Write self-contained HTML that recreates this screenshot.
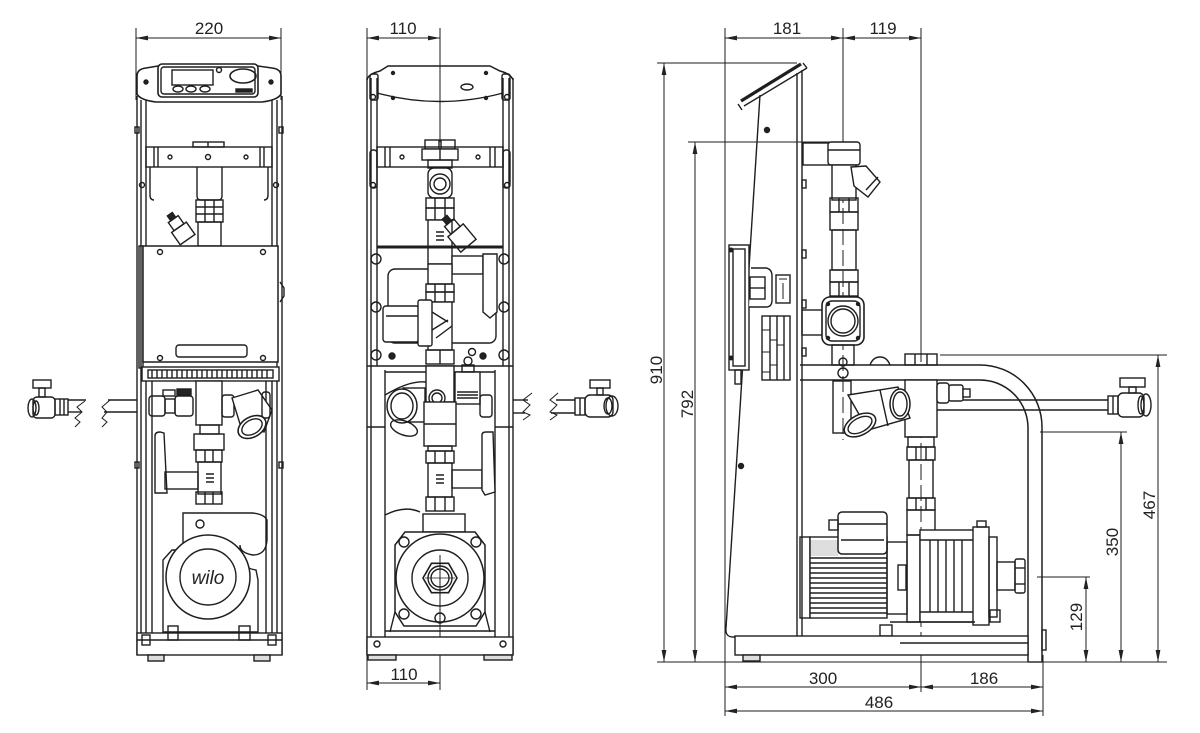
<!DOCTYPE html>
<html><head><meta charset="utf-8">
<style>
html,body{margin:0;padding:0;background:#fff;}
svg{display:block;}
text{font-family:"Liberation Sans",sans-serif;font-size:17px;fill:#222;stroke:none;}
</style></head><body>
<svg width="1200" height="733" viewBox="0 0 1200 733" xmlns="http://www.w3.org/2000/svg">
<defs>
<marker id="a" viewBox="0 0 12 6" refX="12" refY="3" markerWidth="12" markerHeight="6" markerUnits="userSpaceOnUse" orient="auto-start-reverse"><path d="M0,0.6 L12,3 L0,5.4 z" fill="#222" stroke="none"/></marker>
</defs>

<g fill="none" stroke="#1e1e1e" stroke-width="1.4">

<!-- ================= LEFT VIEW ================= -->
<g stroke-width="1">
<line x1="136" y1="28" x2="136" y2="100"/>
<line x1="281" y1="28" x2="281" y2="100"/>
<line x1="136" y1="38" x2="281" y2="38" marker-start="url(#a)" marker-end="url(#a)"/>
</g>
<text x="209" y="34" text-anchor="middle">220</text>

<line x1="137" y1="96" x2="137" y2="655"/>
<line x1="141" y1="100" x2="141" y2="640"/>
<line x1="146" y1="100" x2="146" y2="246"/>
<line x1="282" y1="96" x2="282" y2="655"/>
<line x1="277" y1="100" x2="277" y2="640"/>
<line x1="272" y1="100" x2="272" y2="246"/>
<line x1="146" y1="381" x2="146" y2="635"/>
<line x1="152" y1="381" x2="152" y2="635"/>
<line x1="266" y1="381" x2="266" y2="635"/>
<line x1="272" y1="381" x2="272" y2="635"/>
<rect x="135" y="127" width="4" height="6"/>
<rect x="279" y="127" width="4" height="6"/>
<rect x="135" y="462" width="4" height="6"/>
<rect x="279" y="462" width="4" height="6"/>

<path d="M137,94 L137,76 Q137,69 146,68 L158,66 L258,66 L272,68 Q281,69 281,76 L281,94 Q278,100 262,102 L156,102 Q140,100 137,94 Z" fill="#fff" stroke-width="1.6"/>
<rect x="158" y="64" width="100" height="33" rx="4" fill="#fff" stroke-width="1.6"/>
<rect x="161" y="67" width="94" height="27" rx="3"/>
<rect x="172" y="70" width="41" height="15"/>
<ellipse cx="178" cy="89" rx="5" ry="3"/>
<ellipse cx="191" cy="89" rx="5" ry="3"/>
<ellipse cx="205" cy="89" rx="5" ry="3"/>
<ellipse cx="243" cy="76" rx="13" ry="7" stroke-width="1.6"/>
<circle cx="219" cy="70" r="2.5"/>
<rect x="236" y="89" width="16" height="3" fill="#222"/>
<circle cx="146" cy="82" r="2" fill="#222"/>
<circle cx="271" cy="82" r="2" fill="#222"/>

<rect x="193" y="142" width="31" height="5"/>
<line x1="208" y1="142" x2="208" y2="147"/>
<rect x="146" y="147" width="126" height="20"/>
<line x1="154" y1="147" x2="154" y2="167"/><line x1="158" y1="147" x2="158" y2="167"/>
<line x1="260" y1="147" x2="260" y2="167"/><line x1="264" y1="147" x2="264" y2="167"/>
<circle cx="170" cy="157" r="2"/><circle cx="208" cy="157" r="2.5"/><circle cx="246" cy="157" r="2"/>
<path d="M150,167 V195 Q150,200 154,200"/>
<path d="M268,167 V195 Q268,200 264,200"/>
<circle cx="142" cy="185" r="2.5"/><circle cx="276" cy="185" r="2.5"/>

<path d="M197,167 V196 Q197,200 201,200 H218 Q222,200 222,196 V167"/>
<rect x="196" y="200" width="27" height="22"/>
<line x1="196" y1="207" x2="223" y2="207"/><line x1="196" y1="214" x2="223" y2="214"/>
<line x1="205" y1="200" x2="205" y2="222"/><line x1="214" y1="200" x2="214" y2="222"/>
<rect x="198" y="222" width="23" height="24"/>
<g transform="rotate(-35 183 233)">
<rect x="174" y="226" width="18" height="15"/>
<rect x="177" y="216" width="12" height="10"/>
<rect x="180" y="210" width="6" height="6" fill="#222"/>
</g>

<rect x="139" y="246" width="4" height="122"/>
<rect x="143" y="246" width="135" height="116" fill="#fff" stroke-width="1.5"/>
<circle cx="160" cy="252" r="2.5"/><circle cx="263" cy="252" r="2.5"/>
<circle cx="160" cy="358" r="2.5"/><circle cx="263" cy="358" r="2.5"/>
<rect x="176" y="345" width="71" height="12" rx="3"/>
<path d="M280,282 L284,288 L284,296 L280,302"/>

<rect x="142" y="367" width="137" height="14" fill="#fff"/>
<rect x="148" y="370" width="125" height="8"/>
<path d="M152,370v8M157,370v8M162,370v8M167,370v8M172,370v8M177,370v8M182,370v8M187,370v8M192,370v8M197,370v8M202,370v8M207,370v8M212,370v8M217,370v8M222,370v8M227,370v8M232,370v8M237,370v8M242,370v8M247,370v8M252,370v8M257,370v8M262,370v8M267,370v8"/>

<rect x="196" y="381" width="26" height="44" fill="#fff"/>
<rect x="200" y="425" width="19" height="9"/>
<rect x="149" y="396" width="16" height="20" rx="3"/>
<rect x="165" y="399" width="10" height="14"/>
<rect x="175" y="396" width="18" height="20" rx="3"/>
<rect x="163" y="390" width="12" height="6"/>
<rect x="177" y="389" width="14" height="6" fill="#222"/>
<rect x="222" y="395" width="12" height="22" rx="3"/>
<polygon points="232,398 258,390 272,410 264,432 240,424" fill="#fff"/>
<ellipse cx="252" cy="427" rx="15" ry="10" transform="rotate(-30 252 427)" fill="#fff" stroke-width="1.6"/>
<ellipse cx="252" cy="427" rx="11" ry="7" transform="rotate(-30 252 427)"/>
<rect x="262" y="392" width="8" height="26" rx="3"/>

<rect x="194" y="434" width="30" height="16"/>
<rect x="196" y="450" width="26" height="12"/>
<line x1="205" y1="450" x2="205" y2="462"/><line x1="213" y1="450" x2="213" y2="462"/>
<rect x="198" y="462" width="23" height="32"/>
<rect x="196" y="492" width="26" height="12"/>
<line x1="205" y1="492" x2="205" y2="504"/><line x1="213" y1="492" x2="213" y2="504"/>
<path d="M155,436 Q155,432 160,432 L164,433 L167,493 L155,493 Z" fill="#fff"/>
<rect x="165" y="472" width="33" height="17"/>
<path d="M206,474h8M206,478h8M206,482h8" stroke-width="1.5"/>

<path d="M183,550 V513 H252 Q264,514 267,520 V540 Q266,555 253,555 Q240,553 240,545 V550"/>
<circle cx="200" cy="524" r="4"/>
<path d="M163,632 V560 L172,550 H235 Q240,568 256,570 L258,580 V632 Z" fill="#fff"/>
<circle cx="208" cy="577" r="42" fill="#fff" stroke-width="1.5"/>
<circle cx="208" cy="577" r="28"/>
<text x="208" y="584" text-anchor="middle" style="font-style:italic;font-size:19px">wilo</text>

<rect x="137" y="633" width="145" height="22" fill="#fff"/>
<line x1="137" y1="640" x2="282" y2="640"/>
<rect x="142" y="635" width="8" height="10"/>
<rect x="268" y="635" width="8" height="10"/>
<rect x="168" y="626" width="10" height="14"/>
<rect x="239" y="626" width="11" height="14"/>
<rect x="148" y="655" width="16" height="6" fill="#ddd"/>
<rect x="254" y="655" width="16" height="6" fill="#ddd"/>

<line x1="68" y1="400" x2="86" y2="400"/>
<line x1="68" y1="412" x2="82" y2="412"/>
<line x1="108" y1="400" x2="137" y2="400"/>
<line x1="104" y1="412" x2="137" y2="412"/>
<path d="M85,401 L77,407 L82,412 L75,418 L80,422 L75,427" stroke-width="1"/>
<path d="M110,400 L102,407 L107,412 L102,418 L107,422 L102,427" stroke-width="1"/>
<rect x="55" y="399" width="13" height="16"/>
<line x1="60" y1="399" x2="60" y2="415"/><line x1="64" y1="399" x2="64" y2="415"/>
<rect x="33" y="397" width="22" height="21" rx="4"/>
<ellipse cx="32" cy="408" rx="4" ry="9"/>
<ellipse cx="36" cy="408" rx="3" ry="7"/>
<rect x="33" y="380" width="18" height="8"/>
<rect x="39" y="388" width="6" height="9"/>

<!-- ================= MIDDLE VIEW ================= -->
<g stroke-width="1">
<line x1="367" y1="28" x2="367" y2="78"/>
<line x1="440" y1="28" x2="440" y2="142"/>
<line x1="367" y1="38" x2="440" y2="38" marker-start="url(#a)" marker-end="url(#a)"/>
</g>
<text x="403" y="34" text-anchor="middle">110</text>

<line x1="367" y1="78" x2="367" y2="655"/>
<line x1="371" y1="78" x2="371" y2="640"/>
<line x1="377" y1="78" x2="377" y2="366"/>
<line x1="513" y1="78" x2="513" y2="655"/>
<line x1="509" y1="78" x2="509" y2="640"/>
<line x1="503" y1="78" x2="503" y2="366"/>
<line x1="385" y1="370" x2="385" y2="640"/>
<line x1="495" y1="370" x2="495" y2="640"/>
<line x1="367" y1="427" x2="385" y2="427"/>
<line x1="495" y1="427" x2="513" y2="427"/>
<line x1="367" y1="366" x2="513" y2="366"/>
<line x1="385" y1="372" x2="495" y2="372"/>

<path d="M367,80 Q368,74 380,71 L388,66 L490,66 L500,71 Q511,74 513,80" stroke-width="1.5"/>
<path d="M377,93 Q440,110 503,93"/>
<rect x="370" y="74" width="8" height="26" rx="2"/>
<rect x="502" y="74" width="8" height="26" rx="2"/>
<circle cx="393" cy="73" r="1.5" fill="#222"/><circle cx="486" cy="73" r="1.5" fill="#222"/>
<circle cx="393" cy="98" r="1.5" fill="#222"/><circle cx="486" cy="98" r="1.5" fill="#222"/>
<ellipse cx="467" cy="87" rx="6" ry="3"/>
<circle cx="373" cy="97" r="2.5"/><circle cx="507" cy="97" r="2.5"/>

<rect x="377" y="147" width="126" height="20"/>
<line x1="385" y1="147" x2="385" y2="167"/><line x1="390" y1="147" x2="390" y2="167"/>
<line x1="490" y1="147" x2="490" y2="167"/><line x1="495" y1="147" x2="495" y2="167"/>
<circle cx="402" cy="157" r="2"/><circle cx="478" cy="157" r="2"/>
<rect x="370" y="150" width="7" height="38" rx="3"/>
<rect x="503" y="150" width="7" height="38" rx="3"/>
<circle cx="373" cy="185" r="2.5"/><circle cx="507" cy="185" r="2.5"/>

<rect x="425" y="140" width="14" height="9"/>
<rect x="441" y="140" width="14" height="9"/>
<rect x="422" y="149" width="36" height="11" fill="#fff"/>
<line x1="440" y1="149" x2="440" y2="160"/>
<rect x="428" y="160" width="24" height="8"/>
<rect x="428" y="168" width="24" height="30" rx="6" fill="#fff"/>
<circle cx="440" cy="184" r="10"/>
<circle cx="440" cy="184" r="6"/>
<rect x="426" y="198" width="28" height="10"/>
<rect x="426" y="208" width="28" height="12"/>
<line x1="435" y1="198" x2="435" y2="220"/><line x1="445" y1="198" x2="445" y2="220"/>
<rect x="428" y="220" width="24" height="44" fill="#fff"/>
<path d="M436,232h8M436,236h8M436,240h8" stroke-width="1.5"/>
<g transform="rotate(-40 462 238)">
<rect x="452" y="228" width="20" height="20" fill="#fff"/>
<rect x="456" y="218" width="12" height="10"/>
<rect x="459" y="211" width="6" height="7" fill="#222"/>
</g>
<line x1="377" y1="247" x2="503" y2="247" stroke-width="3"/>

<circle cx="376" cy="259" r="5"/><circle cx="504" cy="259" r="5"/>
<circle cx="376" cy="307" r="5"/><circle cx="504" cy="307" r="5"/>
<circle cx="376" cy="355" r="5"/><circle cx="504" cy="355" r="5"/>
<circle cx="392" cy="356" r="3" fill="#222"/><circle cx="483" cy="356" r="3" fill="#222"/>
<circle cx="472" cy="352" r="3.5"/>

<rect x="388" y="269" width="108" height="74" rx="7"/>
<rect x="452" y="256" width="31" height="18" fill="#fff"/>
<path d="M483,254 H497 V312 L490,318 L483,312 Z" fill="#fff"/>
<rect x="428" y="264" width="24" height="20" fill="#fff"/>
<rect x="426" y="284" width="28" height="8"/>
<rect x="426" y="292" width="28" height="10"/>
<line x1="435" y1="284" x2="435" y2="302"/><line x1="445" y1="284" x2="445" y2="302"/>
<rect x="428" y="302" width="24" height="48" fill="#fff"/>
<rect x="383" y="306" width="36" height="36" rx="3" fill="#fff"/>
<line x1="386" y1="316" x2="419" y2="316"/>
<rect x="418" y="300" width="14" height="46" rx="2" fill="#fff"/>
<path d="M432,312 L448,322 M432,330 L448,320 M436,338 L452,326"/>
<rect x="426" y="350" width="28" height="14"/>
<line x1="440" y1="350" x2="440" y2="364"/>

<rect x="426" y="366" width="28" height="36" fill="#fff"/>
<circle cx="437" cy="398" r="8" fill="#fff"/>
<circle cx="437" cy="398" r="5"/>
<rect x="403" y="388" width="22" height="34"/>
<ellipse cx="402" cy="406" rx="15" ry="17" fill="#fff" stroke-width="1.5"/>
<ellipse cx="402" cy="406" rx="11" ry="13"/>
<ellipse cx="404" cy="428" rx="14" ry="7" transform="rotate(20 404 428)"/>
<rect x="455" y="372" width="25" height="32" fill="#fff"/>
<path d="M457,392h21M457,395h21M457,398h21" stroke-width="1.4"/>
<rect x="462" y="365" width="12" height="7"/>
<circle cx="468" cy="361" r="4"/>
<rect x="480" y="395" width="12" height="22" rx="3"/>
<path d="M385,395 Q410,380 426,382"/>

<rect x="424" y="402" width="32" height="44" fill="#fff"/>
<line x1="424" y1="424" x2="456" y2="424"/>
<rect x="428" y="446" width="24" height="5"/>
<rect x="426" y="451" width="28" height="12"/>
<line x1="435" y1="451" x2="435" y2="463"/><line x1="445" y1="451" x2="445" y2="463"/>
<rect x="428" y="463" width="24" height="34"/>
<path d="M436,475h8M436,479h8M436,483h8" stroke-width="1.5"/>
<rect x="426" y="497" width="28" height="14"/>
<line x1="435" y1="497" x2="435" y2="511"/><line x1="445" y1="497" x2="445" y2="511"/>
<rect x="452" y="470" width="30" height="18"/>
<path d="M482,435 Q482,432 486,432 H493 L495,492 L485,495 L482,490 Z" fill="#fff"/>
<rect x="423" y="514" width="42" height="18"/>
<path d="M385,515 Q405,505 420,512"/>

<path d="M395,545 L405,532 H475 L485,545 V612 L476,626 H404 L395,612 Z" fill="#fff" stroke-width="1.5"/>
<path d="M395,612 L390,632 M485,612 L490,632"/>
<circle cx="440" cy="578" r="44" fill="#fff" stroke-width="1.5"/>
<circle cx="440" cy="578" r="28"/>
<polygon points="457,578 448.5,592.7 431.5,592.7 423,578 431.5,563.3 448.5,563.3" stroke-width="1.6"/>
<circle cx="440" cy="578" r="12"/>
<circle cx="440" cy="578" r="9"/>
<circle cx="404" cy="542" r="5"/><circle cx="476" cy="542" r="5"/>
<circle cx="404" cy="614" r="5"/><circle cx="476" cy="614" r="5"/>
<circle cx="440" cy="618" r="5"/>
<line x1="440" y1="555" x2="440" y2="690" stroke-width="1"/>
<line x1="425" y1="578" x2="455" y2="578" stroke-width="0.8"/>

<line x1="385" y1="631" x2="495" y2="631"/>
<rect x="367" y="637" width="146" height="18" fill="#fff"/>
<circle cx="377" cy="644" r="3"/><circle cx="503" cy="644" r="3"/>
<rect x="368" y="655" width="28" height="5" fill="#ddd"/>
<rect x="484" y="655" width="28" height="5" fill="#ddd"/>

<g stroke-width="1">
<line x1="367" y1="655" x2="367" y2="690"/>
<line x1="367" y1="683" x2="440" y2="683" marker-start="url(#a)" marker-end="url(#a)"/>
</g>
<text x="404" y="680" text-anchor="middle">110</text>

<line x1="513" y1="400" x2="528" y2="400"/>
<line x1="513" y1="413" x2="525" y2="413"/>
<line x1="556" y1="400" x2="575" y2="400"/>
<line x1="551" y1="413" x2="575" y2="413"/>
<path d="M532,393 L523,400 L530,405 L523,412 L530,415 L523,420" stroke-width="1"/>
<path d="M558,393 L550,400 L557,405 L550,412 L557,415 L550,420" stroke-width="1"/>
<rect x="575" y="398" width="10" height="17"/>
<line x1="580" y1="398" x2="580" y2="415"/>
<rect x="585" y="395" width="28" height="22" rx="5"/>
<ellipse cx="612" cy="406" rx="6" ry="10"/>
<ellipse cx="608" cy="406" rx="4" ry="8"/>
<rect x="590" y="380" width="20" height="8"/>
<rect x="597" y="388" width="6" height="7"/>

<!-- ================= RIGHT VIEW ================= -->
<g stroke-width="1">
<line x1="725" y1="28" x2="725" y2="716"/>
<line x1="843" y1="28" x2="843" y2="145"/>
<line x1="921" y1="28" x2="921" y2="362"/>
<line x1="725" y1="38" x2="843" y2="38" marker-start="url(#a)" marker-end="url(#a)"/>
<line x1="843" y1="38" x2="921" y2="38" marker-start="url(#a)" marker-end="url(#a)"/>
<line x1="657" y1="63" x2="797" y2="63"/>
<line x1="688" y1="142" x2="832" y2="142"/>
<line x1="664" y1="63" x2="664" y2="662" marker-start="url(#a)" marker-end="url(#a)"/>
<line x1="695" y1="142" x2="695" y2="662" marker-start="url(#a)" marker-end="url(#a)"/>
<line x1="657" y1="662" x2="1167" y2="662"/>
<line x1="921" y1="662" x2="921" y2="692"/>
<line x1="1043" y1="655" x2="1043" y2="716"/>
<line x1="725" y1="687" x2="921" y2="687" marker-start="url(#a)" marker-end="url(#a)"/>
<line x1="921" y1="687" x2="1043" y2="687" marker-start="url(#a)" marker-end="url(#a)"/>
<line x1="725" y1="711" x2="1043" y2="711" marker-start="url(#a)" marker-end="url(#a)"/>
<line x1="940" y1="355" x2="1167" y2="355"/>
<line x1="1040" y1="432" x2="1127" y2="432"/>
<line x1="1037" y1="577" x2="1090" y2="577"/>
<line x1="1158" y1="355" x2="1158" y2="662" marker-start="url(#a)" marker-end="url(#a)"/>
<line x1="1121" y1="432" x2="1121" y2="662" marker-start="url(#a)" marker-end="url(#a)"/>
<line x1="1086" y1="577" x2="1086" y2="662" marker-start="url(#a)" marker-end="url(#a)"/>
<line x1="843" y1="145" x2="843" y2="440" stroke-dasharray="16,5"/>
<line x1="921" y1="380" x2="921" y2="662" stroke-dasharray="16,5"/>
</g>
<text x="787" y="34" text-anchor="middle">181</text>
<text x="883" y="34" text-anchor="middle">119</text>
<text x="823" y="684" text-anchor="middle">300</text>
<text x="984" y="684" text-anchor="middle">186</text>
<text x="879" y="708" text-anchor="middle">486</text>
<text transform="translate(662 370) rotate(-90)" text-anchor="middle">910</text>
<text transform="translate(693 404) rotate(-90)" text-anchor="middle">792</text>
<text transform="translate(1155 505) rotate(-90)" text-anchor="middle">467</text>
<text transform="translate(1118 542) rotate(-90)" text-anchor="middle">350</text>
<text transform="translate(1082 617) rotate(-90)" text-anchor="middle">129</text>

<line x1="760" y1="95" x2="726" y2="628"/>
<path d="M726,628 Q725,637 733,637 H798"/>
<line x1="797" y1="73" x2="797" y2="637"/>
<line x1="802" y1="70" x2="802" y2="637"/>
<line x1="741" y1="101" x2="801" y2="64" stroke-width="3.2"/>
<line x1="744" y1="106" x2="807" y2="68" stroke-width="1.4"/>
<line x1="738" y1="104" x2="742" y2="110"/>
<line x1="803" y1="63" x2="807" y2="68"/>
<circle cx="767" cy="130" r="2.5" fill="#222"/>
<circle cx="741" cy="466" r="2.5" fill="#222"/>
<rect x="729" y="245" width="20" height="125" fill="#fff"/>
<rect x="733" y="249" width="12" height="117"/>
<circle cx="731" cy="250" r="1.8" fill="#222"/><circle cx="731" cy="358" r="1.8" fill="#222"/>
<rect x="735" y="370" width="6" height="14"/>
<path d="M751,268 H766 Q772,269 772,276 V300 Q772,307 766,307 H749" fill="#fff"/>
<rect x="750" y="277" width="15" height="22"/>
<line x1="750" y1="288" x2="765" y2="288"/>
<rect x="776" y="275" width="14" height="28"/>
<path d="M779,279h8M783,283v16" stroke-width="1"/>
<rect x="762" y="316" width="28" height="64"/>
<line x1="770" y1="316" x2="770" y2="380"/><line x1="777" y1="316" x2="777" y2="380"/><line x1="784" y1="316" x2="784" y2="380"/>
<path d="M762,330h8M770,340h7M762,352h8M777,345h7M770,365h7M762,372h8" stroke-width="1"/>
<rect x="802" y="180" width="4" height="8"/>
<rect x="802" y="250" width="4" height="8"/>
<rect x="802" y="300" width="4" height="8"/>
<rect x="802" y="348" width="4" height="8"/>

<rect x="803" y="143" width="27" height="22" fill="#fff"/>
<rect x="828" y="142" width="32" height="23" rx="3" fill="#fff"/>
<line x1="828" y1="150" x2="860" y2="150"/>
<rect x="832" y="165" width="24" height="35" fill="#fff"/>
<polygon points="851,167 866,166 880,182 868,197 854,186" fill="#fff"/>
<line x1="866" y1="190" x2="878" y2="177"/>
<rect x="830" y="198" width="28" height="14"/>
<line x1="839" y1="198" x2="839" y2="212"/><line x1="849" y1="198" x2="849" y2="212"/>
<rect x="830" y="212" width="28" height="18"/>
<rect x="832" y="230" width="24" height="40"/>
<rect x="830" y="270" width="28" height="12"/>
<rect x="830" y="282" width="28" height="14"/>
<line x1="839" y1="282" x2="839" y2="296"/><line x1="849" y1="282" x2="849" y2="296"/>
<rect x="802" y="310" width="21" height="25"/>
<rect x="822" y="297" width="42" height="48" rx="8" fill="#fff" stroke-width="1.6"/>
<rect x="826" y="301" width="34" height="40" rx="6"/>
<circle cx="843" cy="321" r="15"/>
<circle cx="843" cy="321" r="12"/>
<circle cx="828" cy="304" r="1.5" fill="#222"/><circle cx="858" cy="304" r="1.5" fill="#222"/>
<circle cx="828" cy="338" r="1.5" fill="#222"/><circle cx="858" cy="338" r="1.5" fill="#222"/>
<rect x="832" y="345" width="22" height="20"/>

<path d="M800,365 H980 A62,62 0 0 1 1042,427 V662" stroke-width="1.5"/>
<path d="M800,380 H980 A48,48 0 0 1 1028,428 V662" stroke-width="1.5"/>
<line x1="1028" y1="662" x2="1042" y2="662"/>
<rect x="1042" y="630" width="4" height="20"/>
<rect x="905" y="354" width="32" height="11"/>
<line x1="915" y1="354" x2="915" y2="365"/><line x1="927" y1="354" x2="927" y2="365"/>
<path d="M870,365 Q873,357 880,357 Q887,357 890,365"/>
<circle cx="843" cy="362" r="4"/>
<circle cx="843" cy="373" r="5"/>

<line x1="937" y1="400" x2="1108" y2="400" stroke-width="1.4"/>
<line x1="937" y1="410" x2="1108" y2="410" stroke-width="1.4"/>
<rect x="1108" y="396" width="10" height="18"/>
<line x1="1113" y1="396" x2="1113" y2="414"/>
<rect x="1118" y="393" width="26" height="24" rx="5"/>
<ellipse cx="1146" cy="405" rx="5" ry="11"/>
<ellipse cx="1141" cy="405" rx="3" ry="9"/>
<rect x="1120" y="378" width="25" height="9"/>
<rect x="1129" y="387" width="7" height="6"/>

<rect x="833" y="381" width="18" height="52"/>
<rect x="905" y="380" width="32" height="57" fill="#fff"/>
<rect x="937" y="383" width="12" height="20" rx="3" fill="#fff"/>
<rect x="949" y="385" width="14" height="16" rx="2" fill="#fff"/>
<rect x="963" y="389" width="7" height="8" fill="#fff"/>
<polygon points="848,395 898,387 910,418 868,430" fill="#fff"/>
<ellipse cx="900" cy="404" rx="10" ry="15" fill="#fff" stroke-width="1.5"/>
<ellipse cx="900" cy="404" rx="7" ry="12"/>
<ellipse cx="860" cy="425" rx="17" ry="10" transform="rotate(-28 860 425)" fill="#fff" stroke-width="1.5"/>
<ellipse cx="860" cy="425" rx="13" ry="7" transform="rotate(-28 860 425)"/>
<line x1="880" y1="390" x2="888" y2="426"/>

<rect x="908" y="437" width="26" height="10"/>
<rect x="907" y="447" width="28" height="13"/>
<line x1="916" y1="447" x2="916" y2="460"/><line x1="926" y1="447" x2="926" y2="460"/>
<rect x="909" y="460" width="24" height="38"/>
<rect x="907" y="498" width="28" height="12"/>
<line x1="916" y1="498" x2="916" y2="510"/><line x1="926" y1="498" x2="926" y2="510"/>
<rect x="907" y="510" width="28" height="25"/>

<rect x="800" y="537" width="10" height="81"/>
<rect x="810" y="537" width="77" height="81" fill="#fff"/>
<path d="M810,558H887M810,563H887M810,568H887M810,573H887M810,578H887M810,583H887M810,588H887M810,593H887M810,598H887M810,603H887M810,608H887M810,613H887" stroke-width="1.6"/>
<rect x="810" y="540" width="28" height="16" fill="#222" opacity="0.15" stroke="none"/>
<rect x="838" y="512" width="49" height="42" rx="4" fill="#fff" stroke-width="1.5"/>
<line x1="838" y1="524" x2="887" y2="524"/>
<line x1="841" y1="540" x2="884" y2="540"/>
<rect x="829" y="520" width="9" height="10"/>
<rect x="887" y="542" width="20" height="72"/>
<rect x="898" y="565" width="8" height="25"/>
<rect x="907" y="535" width="13" height="87"/>
<rect x="920" y="530" width="55" height="92" fill="#fff"/>
<line x1="920" y1="540" x2="975" y2="540"/>
<line x1="920" y1="612" x2="975" y2="612"/>
<line x1="930" y1="540" x2="930" y2="612"/>
<line x1="938" y1="540" x2="938" y2="612"/>
<line x1="946" y1="540" x2="946" y2="612"/>
<line x1="954" y1="540" x2="954" y2="612"/>
<line x1="962" y1="540" x2="962" y2="612"/>
<rect x="973" y="527" width="16" height="98" fill="#fff"/>
<rect x="977" y="521" width="9" height="6"/>
<rect x="989" y="537" width="8" height="80"/>
<rect x="997" y="562" width="18" height="28"/>
<rect x="1015" y="559" width="10" height="34" rx="2"/>
<line x1="1015" y1="568" x2="1025" y2="568"/><line x1="1015" y1="584" x2="1025" y2="584"/>
<rect x="990" y="610" width="10" height="12"/>
<line x1="890" y1="622" x2="975" y2="622"/>
<rect x="880" y="625" width="12" height="11"/>

<rect x="735" y="636" width="293" height="19" fill="#fff"/>
<line x1="900" y1="643" x2="1028" y2="643"/>
<rect x="743" y="655" width="17" height="6" fill="#ddd"/>

</g>
</svg>
</body></html>
